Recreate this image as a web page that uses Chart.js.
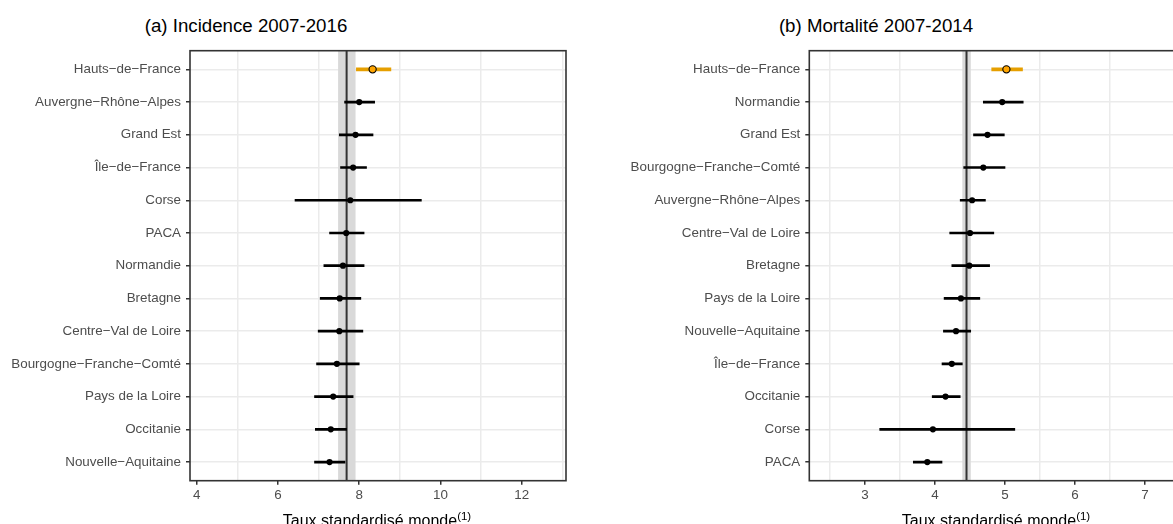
<!DOCTYPE html>
<html>
<head>
<meta charset="utf-8">
<script src="https://cdn.jsdelivr.net/npm/chart.js@4.4.1/dist/chart.umd.min.js"></script>
<style>
  html, body { margin:0; padding:0; background:#fff; width:1173px; height:524px; overflow:hidden; }
  body { position:relative; font-family:"Liberation Sans", Arial, Helvetica, sans-serif; }
  canvas { position:absolute; top:0; }
  .title { position:absolute; top:16px; font-size:18.7px; line-height:19px; color:#000; white-space:nowrap; transform:translateX(-50%); }
  .xtitle { position:absolute; top:513px; font-size:16px; line-height:16px; color:#000; white-space:nowrap; transform:translateX(-50%); }
  .xtitle sup { font-size:11.5px; vertical-align:6px; line-height:0; }
</style>
</head>
<body>
<div class="title" style="left:246px">(a) Incidence 2007-2016</div>
<div class="title" style="left:876px">(b) Mortalité 2007-2014</div>
<canvas id="cA" width="586" height="524" style="left:0px"></canvas>
<canvas id="cB" width="620" height="524" style="left:586px"></canvas>
<div class="xtitle" style="left:377px">Taux standardisé monde<sup>(1)</sup></div>
<div class="xtitle" style="left:996px">Taux standardisé monde<sup>(1)</sup></div>
<script>
// ---- Panel (a) Incidence 2007-2016 ----
const regionsA = ['Hauts\u2212de\u2212France','Auvergne\u2212Rhône\u2212Alpes','Grand Est','Île\u2212de\u2212France','Corse','PACA','Normandie','Bretagne','Centre\u2212Val de Loire','Bourgogne\u2212Franche\u2212Comté','Pays de la Loire','Occitanie','Nouvelle\u2212Aquitaine'];
const valuesA = [8.33, 8.00, 7.91, 7.85, 7.78, 7.68, 7.60, 7.52, 7.51, 7.45, 7.36, 7.30, 7.27];
const lowA    = [7.93, 7.64, 7.51, 7.54, 6.42, 7.27, 7.13, 7.04, 6.99, 6.95, 6.90, 6.92, 6.90];
const highA   = [8.78, 8.38, 8.34, 8.18, 9.53, 8.12, 8.12, 8.04, 8.09, 8.00, 7.85, 7.69, 7.65];
const meanA = 7.69;
const bandA = [7.48, 7.91];
const tickLabelsA = [4, 6, 8, 10, 12];
const gridValuesA = [5, 7, 9, 11, 13];

// ---- Panel (b) Mortalité 2007-2014 ----
const regionsB = ['Hauts\u2212de\u2212France','Normandie','Grand Est','Bourgogne\u2212Franche\u2212Comté','Auvergne\u2212Rhône\u2212Alpes','Centre\u2212Val de Loire','Bretagne','Pays de la Loire','Nouvelle\u2212Aquitaine','Île\u2212de\u2212France','Occitanie','Corse','PACA'];
const valuesB = [5.02, 4.96, 4.75, 4.69, 4.53, 4.50, 4.49, 4.37, 4.30, 4.24, 4.15, 3.97, 3.89];
const lowB    = [4.81, 4.69, 4.55, 4.41, 4.36, 4.21, 4.24, 4.13, 4.12, 4.10, 3.96, 3.21, 3.69];
const highB   = [5.25, 5.26, 4.99, 5.00, 4.72, 4.84, 4.78, 4.64, 4.51, 4.39, 4.36, 5.14, 4.10];
const meanB = 4.45;
const bandB = [4.39, 4.51];
const tickLabelsB = [3, 4, 5, 6, 7];
const gridValuesB = [2.5, 3.5, 4.5, 5.5, 6.5, 7.5];

const highlight = 'Hauts\u2212de\u2212France';

const FONT = '"Liberation Sans", Arial, Helvetica, sans-serif';
const ORANGE_FILL = '#FFA500';
const ORANGE_BAR = '#E69F00';

function makePanel(id, regions, vals, lows, highs, mean, band, labelTicks, gridVals, cfg) {
  const hl = regions.indexOf(highlight);
  const barsNormal = [], barsHl = [];
  regions.forEach((r, i) => {
    const d = {y: i, x: [lows[i], highs[i]]};
    if (i === hl) barsHl.push(d); else barsNormal.push(d);
  });
  const pts = vals.map((v, i) => ({x: v, y: i}));
  const isLabel = v => labelTicks.some(t => Math.abs(t - v) < 1e-9);
  const isGrid = v => gridVals.some(t => Math.abs(t - v) < 1e-9);

  const refPlugin = {
    id: 'ref_' + id,
    beforeDatasetsDraw(chart) {
      const {ctx, chartArea} = chart;
      const xs = chart.scales.x;
      ctx.save();
      ctx.beginPath();
      ctx.rect(chartArea.left, chartArea.top, chartArea.right - chartArea.left, chartArea.bottom - chartArea.top);
      ctx.clip();
      const x0 = xs.getPixelForValue(band[0]), x1 = xs.getPixelForValue(band[1]);
      ctx.fillStyle = '#D9D9D9';
      ctx.fillRect(x0, chartArea.top, x1 - x0, chartArea.bottom - chartArea.top);
      const xm = xs.getPixelForValue(mean);
      ctx.strokeStyle = '#333333';
      ctx.lineWidth = 2;
      ctx.beginPath();
      ctx.moveTo(xm, chartArea.top);
      ctx.lineTo(xm, chartArea.bottom);
      ctx.stroke();
      ctx.restore();
    },
    afterDraw(chart) {
      const {ctx, chartArea} = chart;
      ctx.save();
      ctx.strokeStyle = '#333333';
      ctx.lineWidth = 1.6;
      ctx.strokeRect(chartArea.left, chartArea.top, chartArea.right - chartArea.left, chartArea.bottom - chartArea.top);
      ctx.restore();
    }
  };

  return new Chart(document.getElementById(id), {
    type: 'bar',
    data: {
      datasets: [
        { type: 'scatter', data: pts, order: 0,
          pointRadius: pts.map((p, i) => i === hl ? 3.6 : 3.1),
          pointBackgroundColor: pts.map((p, i) => i === hl ? ORANGE_FILL : '#000'),
          pointBorderColor: '#000',
          pointBorderWidth: pts.map((p, i) => i === hl ? 1.1 : 0),
          showLine: false },
        { type: 'bar', data: barsNormal, order: 1, grouped: false,
          backgroundColor: '#000', barThickness: 2, borderWidth: 0 },
        { type: 'bar', data: barsHl, order: 1, grouped: false,
          backgroundColor: ORANGE_BAR, barThickness: 3, borderWidth: 0 }
      ]
    },
    options: {
      indexAxis: 'y',
      responsive: false,
      animation: false,
      events: [],
      layout: { padding: { top: 50.7, left: 0, right: cfg.padRight, bottom: 0 } },
      plugins: { legend: { display: false }, tooltip: { enabled: false }, title: { display: false } },
      scales: {
        x: {
          type: 'linear', position: 'bottom',
          min: cfg.xmin, max: cfg.xmax, beginAtZero: false, offset: false,
          afterBuildTicks(scale) {
            scale.ticks = labelTicks.concat(gridVals).sort((a, b) => a - b).map(v => ({value: v}));
          },
          afterFit(scale) { scale.height = 524 - 480.7; },
          border: { display: false },
          grid: {
            offset: false, drawOnChartArea: true, drawTicks: true, tickLength: 4, tickWidth: 1.5,
            lineWidth: 1.5,
            color: ctx => (ctx.tick && isGrid(ctx.tick.value)) ? '#EBEBEB' : 'rgba(0,0,0,0)',
            tickColor: ctx => (ctx.tick && isLabel(ctx.tick.value)) ? '#333333' : 'rgba(0,0,0,0)'
          },
          ticks: {
            autoSkip: false, maxRotation: 0, padding: 3,
            color: '#4D4D4D', font: { family: FONT, size: 13.4 },
            callback: v => isLabel(v) ? String(v) : ''
          }
        },
        y: {
          type: 'linear', position: 'left', reverse: true,
          min: -0.57, max: regions.length - 1 + 0.57, offset: false, beginAtZero: false,
          afterBuildTicks(scale) {
            scale.ticks = regions.map((r, i) => ({value: i}));
          },
          afterFit(scale) { scale.width = cfg.yWidth; },
          border: { display: false },
          grid: {
            offset: false, drawOnChartArea: true, drawTicks: true, tickLength: 4, tickWidth: 1.5,
            lineWidth: 1.5, color: '#EBEBEB', tickColor: '#333333'
          },
          ticks: {
            autoSkip: false, padding: 5,
            color: '#4D4D4D', font: { family: FONT, size: 13.4 },
            callback: v => regions[Math.round(v)]
          }
        }
      }
    },
    plugins: [refPlugin]
  });
}

makePanel('cA', regionsA, valuesA, lowA, highA, meanA, bandA, tickLabelsA, gridValuesA,
  { xmin: 3.835, xmax: 13.09, yWidth: 190, padRight: 20 });
makePanel('cB', regionsB, valuesB, lowB, highB, meanB, bandB, tickLabelsB, gridValuesB,
  { xmin: 2.204, xmax: 7.5, yWidth: 223.3, padRight: 26 });
</script>
</body>
</html>
